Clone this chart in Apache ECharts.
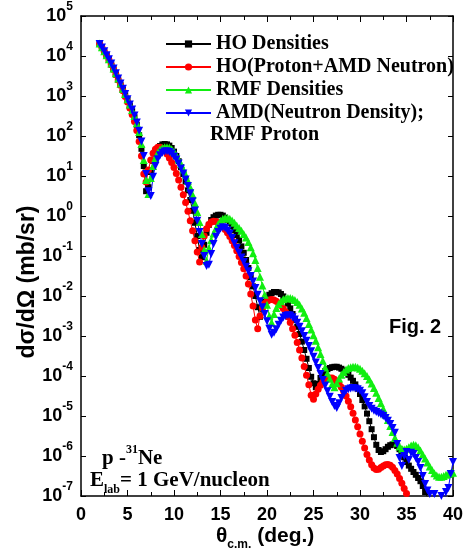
<!DOCTYPE html>
<html>
<head>
<meta charset="utf-8">
<script src="https://cdn.jsdelivr.net/npm/echarts@6/dist/echarts.min.js"></script>
<style>
html,body{margin:0;padding:0;background:#fff;}
#c{width:467px;height:554px;}
</style>
</head>
<body>
<div id="c"></div>
<script>
// scattering angle theta_cm (deg)
const theta = [2,2.25,2.5,2.75,3,3.25,3.5,3.75,4,4.25,4.5,4.75,5,5.25,5.5,5.75,6,6.25,6.5,6.75,7,7.25,7.5,7.75,8,8.25,8.5,8.75,9,9.25,9.5,9.75,10,10.25,10.5,10.75,11,11.25,11.5,11.75,12,12.25,12.5,12.75,13,13.25,13.5,13.75,14,14.25,14.5,14.75,15,15.25,15.5,15.75,16,16.25,16.5,16.75,17,17.25,17.5,17.75,18,18.25,18.5,18.75,19,19.25,19.5,19.75,20,20.25,20.5,20.75,21,21.25,21.5,21.75,22,22.25,22.5,22.75,23,23.25,23.5,23.75,24,24.25,24.5,24.75,25,25.25,25.5,25.75,26,26.25,26.5,26.75,27,27.25,27.5,27.75,28,28.25,28.5,28.75,29,29.25,29.5,29.75,30,30.25,30.5,30.75,31,31.25,31.5,31.75,32,32.25,32.5,32.75,33,33.25,33.5,33.75,34,34.25,34.5,34.75,35,35.25,35.5,35.75,36,36.25,36.5,36.75,37,37.25,37.5,37.75,38,38.25,38.5,38.75,39,39.25,39.5,39.75,40];

// log10 of dσ/dΩ (mb/sr)
const hoLog10 = [
 4.30,4.21,4.11,4.01,3.90,3.79,3.67,3.54,
 3.41,3.28,3.15,3.02,2.90,2.76,2.62,2.47,
 2.28,2.02,1.68,1.25,0.62,0.72,1.10,1.38,
 1.56,1.68,1.75,1.79,1.80,1.79,1.76,1.70,
 1.61,1.50,1.37,1.22,1.05,0.86,0.64,0.40,
 0.13,-0.17,-0.50,-0.85,-1.03,-0.72,-0.42,-0.22,
 -0.10,-0.03,0.01,0.03,0.03,0.01,-0.04,-0.10,
 -0.17,-0.26,-0.36,-0.48,-0.61,-0.76,-0.92,-1.10,
 -1.30,-1.53,-1.76,-2.00,-2.28,-2.52,-2.32,-2.15,
 -2.04,-1.97,-1.93,-1.90,-1.90,-1.91,-1.95,-2.01,
 -2.09,-2.19,-2.31,-2.45,-2.60,-2.77,-2.95,-3.14,
 -3.35,-3.57,-3.80,-4.02,-4.18,-4.28,-4.20,-4.05,
 -3.95,-3.88,-3.83,-3.80,-3.78,-3.77,-3.77,-3.79,
 -3.82,-3.86,-3.91,-3.97,-4.04,-4.12,-4.21,-4.32,
 -4.45,-4.60,-4.76,-4.94,-5.13,-5.33,-5.53,-5.72,
 -5.85,-5.90,-5.88,-5.83,-5.77,-5.73,-5.71,-5.71,
 -5.75,-5.83,-5.92,-6.03,-6.15,-6.24,-6.32,-6.40,
 -6.47,-6.55,-6.63,-6.75,-6.90,-7.03,-7.15];

const hoAmdLog10 = [
 4.30,4.21,4.11,4.01,3.90,3.78,3.66,3.53,
 3.40,3.27,3.13,2.99,2.85,2.70,2.54,2.36,
 2.14,1.86,1.50,1.05,0.85,1.15,1.40,1.57,
 1.67,1.72,1.72,1.69,1.63,1.55,1.45,1.34,
 1.21,1.06,0.90,0.72,0.53,0.34,0.12,-0.12,
 -0.37,-0.62,-0.90,-1.15,-0.78,-0.50,-0.32,-0.21,
 -0.15,-0.13,-0.14,-0.17,-0.21,-0.27,-0.34,-0.42,
 -0.51,-0.62,-0.74,-0.87,-1.01,-1.16,-1.32,-1.50,
 -1.70,-1.95,-2.25,-2.60,-2.82,-2.50,-2.30,-2.19,
 -2.13,-2.10,-2.09,-2.10,-2.13,-2.18,-2.24,-2.31,
 -2.40,-2.52,-2.66,-2.82,-2.98,-3.16,-3.35,-3.55,
 -3.76,-3.98,-4.22,-4.48,-4.58,-4.45,-4.33,-4.23,
 -4.15,-4.10,-4.07,-4.05,-4.05,-4.08,-4.13,-4.20,
 -4.28,-4.38,-4.50,-4.63,-4.77,-4.93,-5.10,-5.27,
 -5.45,-5.63,-5.80,-5.96,-6.10,-6.22,-6.30,-6.34,
 -6.33,-6.29,-6.25,-6.22,-6.21,-6.23,-6.28,-6.36,
 -6.45,-6.56,-6.68,-6.81,-6.94,-7.07,-7.20];

const rmfLog10 = [
 4.31,4.22,4.12,4.02,3.92,3.81,3.69,3.57,
 3.44,3.31,3.18,3.05,2.92,2.79,2.65,2.50,
 2.32,2.10,1.80,1.40,0.90,0.55,0.95,1.25,
 1.45,1.58,1.66,1.70,1.72,1.72,1.71,1.67,
 1.61,1.52,1.42,1.30,1.17,1.03,0.88,0.71,
 0.53,0.32,0.10,-0.15,-0.45,-0.85,-1.12,-0.80,
 -0.60,-0.44,-0.31,-0.20,-0.12,-0.07,-0.05,-0.05,
 -0.07,-0.11,-0.17,-0.24,-0.30,-0.37,-0.45,-0.54,
 -0.65,-0.78,-0.93,-1.10,-1.30,-1.52,-1.74,-1.97,
 -2.22,-2.50,-2.66,-2.45,-2.30,-2.20,-2.13,-2.08,
 -2.06,-2.05,-2.05,-2.07,-2.10,-2.15,-2.22,-2.31,
 -2.42,-2.55,-2.70,-2.84,-2.98,-3.12,-3.28,-3.45,
 -3.62,-3.79,-3.94,-4.07,-4.20,-4.28,-4.18,-4.06,
 -3.97,-3.90,-3.84,-3.80,-3.78,-3.77,-3.77,-3.79,
 -3.82,-3.87,-3.93,-4.00,-4.09,-4.19,-4.30,-4.42,
 -4.55,-4.68,-4.82,-4.96,-5.10,-5.25,-5.40,-5.55,
 -5.67,-5.76,-5.82,-5.84,-5.82,-5.78,-5.74,-5.72,
 -5.73,-5.78,-5.86,-5.96,-6.06,-6.16,-6.26,-6.35,
 -6.43,-6.49,-6.52,-6.52,-6.50,-6.47,-6.45,-6.43,
 -6.42];

const amdRmfLog10 = [
 4.30,4.21,4.12,4.02,3.92,3.81,3.69,3.57,
 3.44,3.31,3.18,3.05,2.92,2.79,2.66,2.51,
 2.34,2.13,1.86,1.50,1.05,0.62,0.50,0.98,
 1.25,1.42,1.52,1.58,1.61,1.62,1.60,1.56,
 1.49,1.41,1.31,1.19,1.06,0.91,0.75,0.57,
 0.37,0.14,-0.12,-0.40,-0.70,-1.00,-1.25,-1.22,
 -0.95,-0.70,-0.52,-0.40,-0.32,-0.28,-0.30,-0.36,
 -0.44,-0.55,-0.68,-0.80,-0.92,-1.04,-1.15,-1.27,
 -1.38,-1.50,-1.64,-1.80,-1.97,-2.13,-2.28,-2.45,
 -2.63,-2.82,-2.97,-2.92,-2.83,-2.72,-2.62,-2.54,
 -2.50,-2.48,-2.49,-2.53,-2.59,-2.67,-2.77,-2.88,
 -3.00,-3.12,-3.25,-3.38,-3.52,-3.66,-3.80,-3.95,
 -4.10,-4.24,-4.38,-4.52,-4.65,-4.75,-4.80,-4.68,
 -4.55,-4.45,-4.37,-4.33,-4.31,-4.30,-4.31,-4.33,
 -4.37,-4.43,-4.53,-4.65,-4.75,-4.82,-4.87,-4.90,
 -4.93,-4.96,-5.00,-5.05,-5.12,-5.20,-5.30,-5.42,
 -5.70,-6.05,-6.25,-6.00,-5.90,-6.10,-5.92,-5.95,
 -6.05,-6.15,-6.30,-6.50,-6.70,-6.86,-6.95,-7.08,
 -6.95,-7.12,-7.20,-7.00,-7.15,-6.90,-6.80,-6.45,
 -6.15];

const seriesNames = ['HO Densities','HO(Proton+AMD Neutron)','RMF Densities','AMD(Neutron Density);'];
const xTicks = [0,5,10,15,20,25,30,35,40];
// y axis decades: exponent of 10
const yExponents = [-7,-6,-5,-4,-3,-2,-1,0,1,2,3,4,5];

// value axis on the decade exponent (log10 of the cross section)
function toPairs(logs){ return logs.map((v,i)=>[theta[i], v]); }

const chart = echarts.init(document.getElementById('c'), null, {renderer:'canvas'});
const sansB = 'Liberation Sans';
const serif = 'Liberation Serif';

function mkSeries(name, logs, color, symbol, size){
  return {
    name, type:'line', data: toPairs(logs), symbol, symbolSize:size,
    showSymbol:true, showAllSymbol:true, clip:true,
    lineStyle:{color, width:1}, itemStyle:{color},
    emphasis:{disabled:true}, animation:false, xAxisIndex:0, yAxisIndex:0
  };
}

const axisLineStyle = {show:true, onZero:false, lineStyle:{color:'#000', width:1.5}};
const yMin = yExponents[0], yMax = yExponents[yExponents.length-1];

chart.setOption({
  animation:false,
  backgroundColor:'#fff',
  grid:{left:81, right:14, top:16, bottom:58, containLabel:false},
  xAxis:[{
    type:'value', min:xTicks[0], max:xTicks[xTicks.length-1], interval:5, position:'bottom',
    axisLine:axisLineStyle,
    axisTick:{show:true, inside:true, length:6, lineStyle:{color:'#000', width:1}},
    minorTick:{show:true, splitNumber:2, length:4, lineStyle:{color:'#000', width:1}},
    splitLine:{show:false},
    axisLabel:{show:true, margin:10, color:'#000', fontFamily:sansB, fontWeight:'bold', fontSize:18}
  },{
    type:'value', min:xTicks[0], max:xTicks[xTicks.length-1], interval:5, position:'top',
    axisLine:axisLineStyle,
    axisTick:{show:true, inside:true, length:6, lineStyle:{color:'#000', width:1}},
    minorTick:{show:true, splitNumber:2, length:4, lineStyle:{color:'#000', width:1}},
    splitLine:{show:false}, axisLabel:{show:false}
  }],
  yAxis:[{
    type:'value', min:yMin, max:yMax, interval:1, position:'left',
    axisLine:axisLineStyle,
    axisTick:{show:true, inside:true, length:5, lineStyle:{color:'#000', width:1}},
    splitLine:{show:false},
    axisLabel:{
      show:true, margin:8,
      formatter:function(v){ return '{b|10}{s|' + Math.round(v) + '}'; },
      rich:{
        b:{fontFamily:sansB, fontWeight:'bold', fontSize:18, color:'#000', lineHeight:30, verticalAlign:'middle'},
        s:{fontFamily:sansB, fontWeight:'bold', fontSize:12, color:'#000', lineHeight:12, verticalAlign:'top'}
      }
    }
  },{
    type:'value', min:yMin, max:yMax, interval:1, position:'right',
    axisLine:axisLineStyle,
    axisTick:{show:true, inside:true, length:5, lineStyle:{color:'#000', width:1}},
    splitLine:{show:false}, axisLabel:{show:false}
  }],
  legend:{
    orient:'vertical', left:160, top:29, itemWidth:45, itemHeight:9, itemGap:3,
    data:seriesNames,
    textStyle:{fontFamily:serif, fontWeight:'bold', fontSize:20, color:'#000', lineHeight:20},
    selectedMode:false
  },
  series:[
    mkSeries(seriesNames[0], hoLog10, '#000000', 'rect', 6),
    mkSeries(seriesNames[1], hoAmdLog10, '#ff0000', 'circle', 7),
    mkSeries(seriesNames[2], rmfLog10, '#11ee11', 'triangle', 8),
    mkSeries(seriesNames[3], amdRmfLog10, '#0000ff', 'path://M0,0L10,0L5,9Z', 8)
  ],
  graphic:[
    {type:'text', left:210, top:125, style:{text:'RMF Proton', fill:'#000', font:'bold 20px "Liberation Serif"'}},
    {type:'text', x:28, y:282, rotation:Math.PI/2,
     style:{text:'dσ/dΩ (mb/sr)', fill:'#000', font:'bold 23px "Liberation Sans"', align:'center', verticalAlign:'middle', textAlign:'center', textVerticalAlign:'middle'}},
    {type:'text', left:389, top:317, style:{text:'Fig. 2', fill:'#000', font:'bold 20px "Liberation Sans"'}},
    {type:'text', left:216, top:526, style:{
      text:'{a|θ}{s|c.m.}{a| (deg.)}',
      rich:{a:{fontFamily:sansB, fontWeight:'bold', fontSize:21, fill:'#000', lineHeight:28, verticalAlign:'middle'},
            s:{fontFamily:sansB, fontWeight:'bold', fontSize:12, fill:'#000', lineHeight:12, verticalAlign:'bottom'}}}},
    {type:'text', left:102, top:444, style:{
      text:'{a|p -}{s|31}{a|Ne}',
      rich:{a:{fontFamily:serif, fontWeight:'bold', fontSize:21, fill:'#000', lineHeight:30, verticalAlign:'middle'},
            s:{fontFamily:serif, fontWeight:'bold', fontSize:12, fill:'#000', lineHeight:12, verticalAlign:'top'}}}},
    {type:'text', left:90, top:470, style:{
      text:'{a|E}{s|lab}{a|= 1 GeV/nucleon}',
      rich:{a:{fontFamily:serif, fontWeight:'bold', fontSize:21, fill:'#000', lineHeight:30, verticalAlign:'middle'},
            s:{fontFamily:serif, fontWeight:'bold', fontSize:12, fill:'#000', lineHeight:12, verticalAlign:'bottom'}}}}
  ]
});
</script>
</body>
</html>
